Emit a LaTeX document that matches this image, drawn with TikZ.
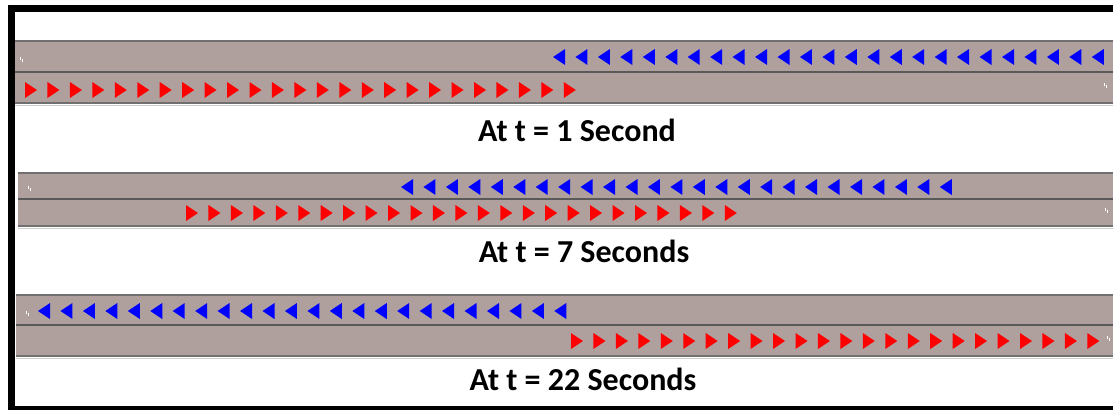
\documentclass[tikz,border=0pt]{standalone}
\usepackage{fontspec}
\setmainfont{Carlito}
\definecolor{asphalt}{RGB}{175,160,158}
\definecolor{kerb}{RGB}{112,112,112}
\tikzset{edge/.style    = {draw=kerb, line width=1.5pt},
         divider/.style = {draw=black!65, line width=1.2pt},
         stamp/.style   = {anchor=base, font=\bfseries\fontsize{32}{32}\selectfont},
         fleck/.style   = {draw=white, line width=1pt},
         % one car in each lane
         toright/.pic   = {\fill[red] (0,-8) -- (12,0) -- (0,8) -- cycle;},
         toleft/.pic    = {\fill[blue] (0,0) -- (12,-8) -- (12,8) -- cycle;}}

\begin{document}
\begin{tikzpicture}[x=1pt, y=-1pt]
  \useasboundingbox (0,0) rectangle (1113,410);
  % frame
  \fill[black] (8,5) rectangle (1113,12);
  \fill[black] (8,5) rectangle (15,410);
  \fill[black] (8,406) rectangle (1113,410);
  % the three road snapshots: left end / top / divider / bottom
  \foreach \x/\t/\m/\b in {15/41/72/103, 18/173/199/226, 16/295/325/356} {
    \fill[asphalt] (\x,\t) rectangle (1113,\b);
    \draw[edge] (\x,\t) -- (1113,\t);
    \draw[divider] (\x,\m) -- (1113,\m);
    \draw[edge] (\x,\b) -- (1113,\b);
    \draw[black!20, line width=0.8pt] (\x,\b+2) -- (1113,\b+2);
  }
    % t = 1
    \foreach \i in {0,...,24} \pic at ({553+22.45*\i},57) {toleft};
    \foreach \i in {0,...,24} \pic at ({25+22.45*\i},90) {toright};
    % t = 7
    \foreach \i in {0,...,24} \pic at ({401+22.45*\i},187) {toleft};
    \foreach \i in {0,...,24} \pic at ({186+22.45*\i},213) {toright};
    % t = 22
    \foreach \i in {0,...,23} \pic at ({38+22.45*\i},311) {toleft};
    \foreach \i in {0,...,23} \pic at ({571+22.45*\i},341) {toright};
    % little specks at the lane ends
    \foreach \x/\y in {20/59, 1104/85, 28/188, 1105/210, 26/313, 1107/338} {
      \draw[fleck] (\x,\y-2) -- (\x,\y+1);
      \draw[fleck] (\x+2,\y) -- (\x+2,\y+3);
    }
  \node[stamp] (lab1) at (577,141) {At t = 1 Second};
  \node[stamp] (lab7) at (584,262) {At t = 7 Seconds};
  \node[stamp] (lab22) at (583,390) {At t = 22 Seconds};
\end{tikzpicture}
\end{document}
